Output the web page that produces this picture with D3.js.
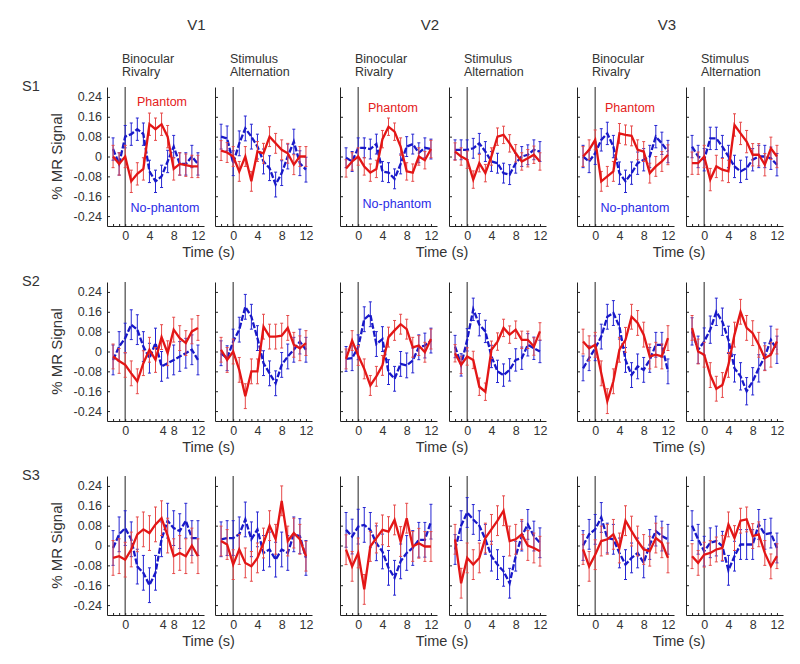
<!DOCTYPE html>
<html><head><meta charset="utf-8">
<script src="https://cdn.jsdelivr.net/npm/d3@7"></script>
<style>
body{margin:0;background:#fff}
text{font-family:"Liberation Sans",Arial,sans-serif;fill:#333}
</style>
</head><body>
<svg id="c" width="800" height="664"></svg>
<script>
// ---------------- data ----------------
const areas = ["V1", "V2", "V3"];
const subjects = ["S1", "S2", "S3"];
const conditionLines = [["Binocular", "Rivalry"], ["Stimulus", "Alternation"]];
const times = [-2, -1, 0, 1, 2, 3, 4, 5, 6, 7, 8, 9, 10, 11, 12];
const yTicks = [-0.24, -0.16, -0.08, 0, 0.08, 0.16, 0.24];
const yTickLabels = ["-0.24", "-0.16", "-0.08", "0", "0.08", "0.16", "0.24"];
const xTickLabels = ["0", "4", "8", "12"];
const xTickValues = [0, 4, 8, 12];
const xTickValuesOdd = [0, 6.2, 8, 12]; // label placement seen in S2/S3 V1 rivalry panels
const seriesNames = ["Phantom", "No-phantom"];

// order of panels in each row: V1 BR, V1 SA, V2 BR, V2 SA, V3 BR, V3 SA
const s1Phantom = [
  [0, -0.03, 0, -0.10, -0.07, -0.05, 0.13, 0.11, 0.13, 0.08, -0.05, -0.03, -0.035, -0.04, -0.04],
  [0.024, 0.016, 0, -0.06, 0, -0.10, 0.02, 0.013, 0.08, 0.053, 0.027, 0.013, -0.033, 0, 0],
  [-0.048, -0.02, 0, -0.04, -0.065, -0.05, 0.07, 0.12, 0.10, 0.04, -0.06, -0.065, 0, -0.015, 0.03],
  [0.02, 0, -0.013, -0.093, -0.027, -0.067, 0, 0.08, 0.087, 0.053, 0.013, -0.02, -0.007, 0.007, -0.02],
  [0, 0.027, 0.067, -0.10, -0.08, -0.06, 0.093, 0.087, 0.083, 0.027, 0.02, -0.067, -0.04, -0.02, 0.007],
  [-0.027, -0.027, 0, -0.093, -0.04, -0.053, -0.06, 0.127, 0.093, 0.06, 0.007, 0.007, -0.033, 0.033, 0]
];
const s1NoPhantom = [
  [0.03, -0.03, 0.08, 0.09, 0.11, 0.09, -0.06, -0.10, -0.08, -0.02, 0.04, -0.03, -0.03, 0, -0.03],
  [0.08, 0.073, -0.027, 0.053, 0.113, 0.08, 0.04, -0.02, -0.047, -0.113, -0.067, 0, 0.06, -0.027, -0.053],
  [-0.005, -0.02, 0.035, 0.035, 0.03, 0.05, -0.06, -0.065, -0.09, -0.03, 0.04, 0.05, 0.015, 0.035, 0.03],
  [0.027, 0.027, 0.027, 0.033, 0.053, 0.02, -0.02, -0.027, -0.067, -0.073, -0.027, 0, 0.007, 0.027, 0.02],
  [0, -0.02, 0.013, 0.067, 0.093, 0.04, -0.067, -0.10, -0.067, -0.027, -0.013, 0, 0.08, 0.053, 0.02],
  [0.04, 0, -0.013, 0.073, 0.073, 0.04, 0, -0.04, -0.06, -0.047, -0.013, 0, 0, -0.007, -0.033]
];
const s2Phantom = [
  [-0.02, -0.038, -0.054, -0.088, -0.12, -0.047, 0.007, -0.034, 0.058, -0.007, 0.088, 0.054, 0.034, 0.081, 0.095],
  [0.007, -0.034, 0, -0.074, -0.18, -0.08, -0.08, 0.10, 0.06, 0.06, 0.064, 0.095, 0.027, 0.013, 0.034],
  [-0.03, 0.044, -0.016, -0.07, -0.137, -0.10, -0.056, 0.058, 0.085, 0.11, 0.09, 0.017, 0.024, -0.003, 0.05],
  [-0.007, -0.054, -0.02, -0.034, -0.142, -0.162, 0.007, 0.04, 0.095, 0.068, 0.088, 0.047, 0.047, 0.02, 0.081],
  [0.04, 0.013, 0.027, -0.088, -0.20, -0.12, 0.007, 0.047, 0.14, 0.115, 0.068, -0.02, -0.013, -0.02, 0.054],
  [0.095, 0, -0.013, -0.095, -0.15, -0.135, -0.054, 0.068, 0.16, 0.095, 0.074, 0.027, -0.027, -0.013, 0.04]
];
const s2NoPhantom = [
  [-0.034, 0.02, 0.054, 0.108, 0.088, 0.02, -0.027, 0.034, -0.06, -0.047, -0.034, -0.02, -0.007, 0.007, -0.034],
  [-0.007, -0.027, 0.04, 0.088, 0.18, 0.14, 0.054, -0.047, -0.088, -0.128, -0.054, -0.02, 0.007, 0.04, 0.007],
  [-0.03, -0.027, 0.017, 0.13, 0.15, 0.03, 0.05, -0.083, -0.11, -0.05, -0.056, -0.036, 0.017, 0.024, 0.044],
  [0.02, -0.054, 0.047, 0.17, 0.108, 0.081, -0.02, -0.08, -0.095, -0.074, -0.034, -0.027, 0.027, 0.013, 0],
  [-0.068, -0.027, 0.013, 0.06, 0.14, 0.155, 0.10, -0.034, -0.095, -0.06, -0.074, -0.034, 0.027, 0.027, -0.08],
  [0.081, 0.007, 0.04, 0.088, 0.16, 0.12, 0.047, -0.068, -0.10, -0.16, -0.12, -0.068, -0.02, 0.047, 0.007]
];
const s3Phantom = [
  [-0.05, -0.043, -0.057, -0.016, 0.045, 0.065, 0.05, 0.085, 0.11, 0.04, -0.043, -0.03, -0.043, 0, -0.043],
  [0.018, 0.004, -0.077, -0.016, -0.07, -0.084, -0.05, 0.01, 0.08, 0.025, 0.18, 0.018, 0.05, 0.025, -0.043],
  [-0.017, -0.084, -0.03, -0.177, -0.004, 0.03, 0.063, 0.056, 0.103, 0.016, 0.11, -0.004, 0.009, -0.004, -0.004],
  [0.025, -0.152, -0.05, -0.077, -0.05, 0.03, 0.065, 0.10, 0.14, 0.018, 0.025, 0.045, 0, -0.01, -0.023],
  [-0.016, -0.084, -0.037, 0.018, 0.025, 0.045, -0.01, 0.10, 0.058, 0.018, -0.016, -0.023, 0.03, 0.011, -0.05],
  [-0.043, -0.07, -0.037, -0.03, -0.016, -0.01, 0.085, 0.03, 0.10, 0.105, 0.038, 0.045, -0.03, -0.084, -0.043]
];
const s3NoPhantom = [
  [-0.01, 0.045, 0.07, 0.025, -0.085, -0.11, -0.16, -0.11, 0.025, 0.10, 0.07, 0.058, 0.10, 0.03, 0.03],
  [0.025, 0.03, 0.03, 0.045, 0.105, 0.025, 0.065, -0.03, -0.016, -0.057, -0.016, -0.03, 0.045, 0.038, -0.05],
  [0.063, 0.036, 0.076, 0.083, 0.063, 0.009, -0.024, -0.09, -0.13, -0.064, -0.03, -0.01, 0.023, 0.023, 0.096],
  [-0.016, 0.08, 0.133, 0.105, 0.08, 0.025, -0.043, -0.077, -0.104, -0.152, -0.043, 0.038, 0.085, 0.038, 0.011],
  [0, 0.045, 0.065, 0.113, 0.03, 0.025, -0.03, -0.077, -0.05, -0.03, -0.07, 0.004, 0.058, 0.038, 0.025],
  [0.08, 0.025, -0.023, 0.011, 0.018, -0.003, -0.10, -0.043, 0.004, 0.004, 0.004, 0.085, 0.045, 0.05, -0.01]
];
// standard error per panel (same panel order)
const s1PhantomErr = [0.045, 0.04, 0.035, 0.035, 0.04, 0.045];
const s1NoPhantomErr = [0.045, 0.05, 0.04, 0.04, 0.045, 0.045];
const s2PhantomErr = [0.05, 0.05, 0.04, 0.035, 0.05, 0.05];
const s2NoPhantomErr = [0.06, 0.05, 0.05, 0.045, 0.05, 0.055];
const s3PhantomErr = [0.07, 0.06, 0.06, 0.06, 0.06, 0.05];
const s3NoPhantomErr = [0.07, 0.07, 0.07, 0.06, 0.06, 0.06];

const phantomRows = [s1Phantom, s2Phantom, s3Phantom];
const noPhantomRows = [s1NoPhantom, s2NoPhantom, s3NoPhantom];
const phantomErrRows = [s1PhantomErr, s2PhantomErr, s3PhantomErr];
const noPhantomErrRows = [s1NoPhantomErr, s2NoPhantomErr, s3NoPhantomErr];

// ---------------- layout ----------------
const W = 97, H = 139;
const colLeft = [107, 215, 340, 449, 577, 686];
const rowTop = [87, 282, 476];
const RED = "#e31616", RED_ERR = "#e64a4a", BLUE = "#1818c8", BLUE_ERR = "#2626d2";
const TXT = "#333";

const svg = d3.select("#c");
const x = d3.scaleLinear().domain([-3, 13]).range([0, W]);
const y = d3.scaleLinear().domain([-0.28, 0.28]).range([H, 0]);
const line = d3.line().x(d => x(d.t)).y(d => y(d.v));

// column titles
areas.forEach((a, ai) => {
  const cx = (colLeft[ai * 2] + colLeft[ai * 2 + 1] + W) / 2 - 13;
  svg.append("text").attr("x", cx).attr("y", 30).attr("text-anchor", "middle")
    .style("font-size", "15px").text(a);
  [0, 1].forEach(ci => {
    const t = svg.append("text").attr("x", colLeft[ai * 2 + ci] + 15).attr("y", 63)
      .style("font-size", "12.5px");
    t.append("tspan").attr("x", colLeft[ai * 2 + ci] + 15).text(conditionLines[ci][0]);
    t.append("tspan").attr("x", colLeft[ai * 2 + ci] + 15).attr("dy", 13).text(conditionLines[ci][1]);
  });
});

const phantomPos = [[55, 106], [53, 112], [53, 112]];
const noPhantomPos = [[58, 212], [57, 208], [58, 212]];

subjects.forEach((s, si) => {
  const top = rowTop[si];
  svg.append("text").attr("x", 22).attr("y", top + 4).style("font-size", "14.5px").text(s);
  // y label
  svg.append("text").attr("transform", `translate(62,${top + H / 2}) rotate(-90)`)
    .attr("text-anchor", "middle").style("font-size", "15px").text("% MR Signal");

  for (let pi = 0; pi < 6; pi++) {
    const g = svg.append("g").attr("transform", `translate(${colLeft[pi]},${top})`);
    // zero-time marker
    g.append("line").attr("x1", x(0)).attr("x2", x(0)).attr("y1", 0).attr("y2", H)
      .attr("stroke", "#555").attr("stroke-width", 1.3);

    // y axis
    const ya = g.append("g").call(d3.axisLeft(y).tickValues(yTicks).tickSizeInner(-3).tickSizeOuter(0)
      .tickPadding(5).tickFormat((d, i) => pi === 0 ? yTickLabels[i] : ""));
    // x axis ticks
    const xa = g.append("g").attr("transform", `translate(0,${H})`)
      .call(d3.axisBottom(x).tickValues(times).tickSizeInner(-2).tickSizeOuter(0).tickFormat(""));
    // x labels
    const odd = (pi === 0 && si > 0);
    const xl = g.append("g").attr("transform", `translate(0,${H})`)
      .call(d3.axisBottom(x).tickValues(odd ? xTickValuesOdd : xTickValues).tickSize(0).tickPadding(5)
        .tickFormat((d, i) => xTickLabels[i]));
    xl.select(".domain").remove();
    [ya, xa, xl].forEach(a => {
      a.selectAll("path,line").attr("stroke", "#222");
      a.selectAll("text").attr("fill", TXT).style("font-size", "12.5px")
        .style("font-family", '"Liberation Sans",Arial,sans-serif');
    });

    const series = [
      { vals: noPhantomRows[si][pi], err: noPhantomErrRows[si][pi], c: BLUE, ce: BLUE_ERR, dash: "6,2" },
      { vals: phantomRows[si][pi], err: phantomErrRows[si][pi], c: RED, ce: RED_ERR, dash: null }
    ];
    series.forEach(sr => {
      const pts = times.map((t, i) => ({ t, v: sr.vals[i] }));
      const eb = g.append("g");
      pts.forEach(p => {
        const x0 = x(p.t), y1 = y(p.v - sr.err), y2 = y(p.v + sr.err);
        eb.append("line").attr("x1", x0).attr("x2", x0).attr("y1", y1).attr("y2", y2)
          .attr("stroke", sr.ce).attr("stroke-width", 1);
        [y1, y2].forEach(yy => eb.append("line").attr("x1", x0 - 1.5).attr("x2", x0 + 1.5)
          .attr("y1", yy).attr("y2", yy).attr("stroke", sr.ce).attr("stroke-width", 1));
      });
      g.append("path").datum(pts).attr("d", line).attr("fill", "none")
        .attr("stroke", sr.c).attr("stroke-width", 2.3)
        .attr("stroke-dasharray", sr.dash);
    });

    if (si === 0 && pi % 2 === 0) {
      const ai = pi / 2;
      g.append("text").attr("x", phantomPos[ai][0]).attr("y", phantomPos[ai][1] - top)
        .attr("text-anchor", "middle").style("font-size", "12.5px").style("fill", "#e42020").text(seriesNames[0]);
      g.append("text").attr("x", noPhantomPos[ai][0]).attr("y", noPhantomPos[ai][1] - top)
        .attr("text-anchor", "middle").style("font-size", "12.5px").style("fill", "#2a2ae6").text(seriesNames[1]);
    }
  }
  // Time label per area pair
  [0, 1, 2].forEach(ai => {
    const cx = (colLeft[ai * 2] + colLeft[ai * 2 + 1] + W) / 2 - 1;
    svg.append("text").attr("x", cx).attr("y", top + H + 31).attr("text-anchor", "middle")
      .style("font-size", "14.5px").text("Time (s)");
  });
});
</script>
</body></html>
